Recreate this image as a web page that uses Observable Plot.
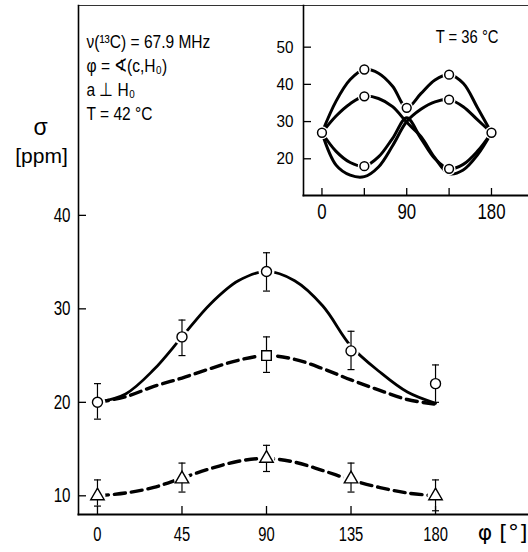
<!DOCTYPE html>
<html><head><meta charset="utf-8">
<script src="https://cdn.jsdelivr.net/npm/d3@7"></script>
<script src="https://cdn.jsdelivr.net/npm/@observablehq/plot@0.6"></script>
<style>
html,body{margin:0;padding:0;background:#fff;}
#wrap{position:relative;width:528px;height:552px;overflow:hidden;}
#main svg{display:block;}
#inset{position:absolute;left:260px;top:0;}
#inset svg{display:block;}
</style></head><body><div id="wrap"><div id="main"></div><div id="inset"></div></div>
<script>
const FONT = '"Liberation Sans",Arial,sans-serif';

// ---- main chart data ----
const phi = [0, 45, 90, 135, 180];
const circleSigma = [20, 27, 34, 25.5, 22];
const circleLo = [18.2, 25.0, 31.9, 23.5, 20.0];
const circleHi = [22.0, 28.8, 36.0, 27.6, 24.0];
const squarePhi = [90];
const squareSigma = [25];
const squareLo = [23.2];
const squareHi = [27.0];
const triangleSigma = [10, 11.8, 14, 11.8, 10];
const triangleLo = [8.9, 10.4, 12.6, 10.4, 8.4];
const triangleHi = [11.7, 13.5, 15.4, 13.5, 11.7];

const curvePhi = [0, 15, 30, 45, 60, 75, 90, 105, 120, 135, 150, 165, 180];
const solidCurve = [20, 20.9, 23.5, 27, 30.5, 33, 34, 33, 30.3, 26, 23.3, 21.1, 19.9];
const squareCurve = [20, 20.6, 21.7, 22.6, 23.6, 24.5, 25, 24.6, 23.6, 22.4, 21.3, 20.3, 19.8];
const triangleCurve = [10, 10.3, 10.9, 11.9, 12.9, 13.7, 14, 13.6, 12.7, 11.7, 10.9, 10.3, 10];

const xTicks = [0, 45, 90, 135, 180];
const yTicks = [10, 20, 30, 40];
const xDomain = [-10.1, 229.5];
const yDomain = [8.0, 62.45];

const infoText = "ν(¹³C) = 67.9 MHz\nφ = ∢(c,H₀)\na ⊥ H₀\nT = 42 °C";

// ---- inset data ----
const insetPointPhi = [0, 45, 45, 45, 90, 135, 135, 135, 180];
const insetPointSigma = [27, 44, 36.8, 18, 33.7, 42.6, 35.9, 17.3, 27];
const insetCurveA = [27, 35.5, 41.3, 44, 43, 39.5, 33.7, 37.5, 41.2, 42.6, 40.3, 33.8, 27];
const insetCurveB = [27, 31.5, 34.8, 36.8, 36.2, 34, 29.8, 26, 20.2, 16, 17, 21, 27];
const insetCurveC = [27, 18.3, 15.6, 15.2, 17.8, 23.5, 30, 33.3, 35.3, 35.9, 34, 30.5, 27];
const insetCurveD = [27, 22, 19, 18, 20.5, 25.5, 31, 25.5, 20, 17.3, 18.5, 22, 27];
const insetXTicks = [0, 45, 90, 135, 180];
const insetXLabels = [0, 90, 180];
const insetYTicks = [20, 30, 40, 50];
const insetXDomain = [-19.6, 219.3];
const insetYDomain = [10.13, 61.2];

// ---- tables ----
const circles = phi.map((p, i) => ({phi: p, sigma: circleSigma[i], lo: circleLo[i], hi: circleHi[i]}));
const squares = squarePhi.map((p, i) => ({phi: p, sigma: squareSigma[i], lo: squareLo[i], hi: squareHi[i]}));
const triangles = phi.map((p, i) => ({phi: p, sigma: triangleSigma[i], lo: triangleLo[i], hi: triangleHi[i]}));
const curveRows = (vals) => curvePhi.map((p, i) => ({phi: p, sigma: vals[i]}));
const allPoints = [...circles, ...squares, ...triangles];

const cap = {draw(ctx, size) { const r = Math.sqrt(size / Math.PI); ctx.moveTo(-r, 0); ctx.lineTo(r, 0); }};

const main = Plot.plot({
  width: 528, height: 552,
  marginLeft: 78, marginTop: 5, marginRight: 0, marginBottom: 38,
  x: {domain: xDomain},
  y: {domain: yDomain},
  style: {fontFamily: FONT, background: "white", color: "black"},
  marks: [
    Plot.frame({anchor: "top", stroke: "#333", strokeWidth: 1.2}),
    Plot.frame({anchor: "left", strokeWidth: 1.6}),
    Plot.frame({anchor: "bottom", strokeWidth: 2}),
    Plot.axisY(yTicks, {tickSize: 8, dx: 8, fill: "none", label: null, strokeWidth: 1.3}),
    Plot.axisY(yTicks, {tickSize: 0, tickPadding: 8, fontSize: 20.5, label: null}),
    Plot.axisX(xTicks, {tickSize: 8, dy: -8, fill: "none", label: null, strokeWidth: 1.3}),
    Plot.axisX(xTicks, {tickSize: 0, tickPadding: 12, fontSize: 20.5, label: null}),
    Plot.line(curveRows(solidCurve), {x: "phi", y: "sigma", curve: "catmull-rom", stroke: "black", strokeWidth: 2.8}),
    Plot.line(curveRows(squareCurve), {x: "phi", y: "sigma", curve: "catmull-rom", stroke: "black", strokeWidth: 3.4, strokeDasharray: "11,6"}),
    Plot.line(curveRows(triangleCurve), {x: "phi", y: "sigma", curve: "catmull-rom", stroke: "black", strokeWidth: 3.4, strokeDasharray: "11,6"}),
    Plot.dot(allPoints, {x: "phi", y: "sigma", r: 8, fill: "white", stroke: null}),
    Plot.ruleX(allPoints, {x: "phi", y1: "lo", y2: "hi", strokeWidth: 1.2}),
    Plot.dot(allPoints, {x: "phi", y: "lo", symbol: cap, r: 3.5, fill: "none", stroke: "black", strokeWidth: 1.2}),
    Plot.dot(allPoints, {x: "phi", y: "hi", symbol: cap, r: 3.5, fill: "none", stroke: "black", strokeWidth: 1.2}),
    Plot.dot(circles, {x: "phi", y: "sigma", r: 5, fill: "white", stroke: "black", strokeWidth: 1.4}),
    Plot.dot(squares, {x: "phi", y: "sigma", symbol: "square", r: 5.4, fill: "white", stroke: "black", strokeWidth: 1.4}),
    Plot.dot(triangles, {x: "phi", y: "sigma", symbol: "triangle", r: 5, fill: "white", stroke: "black", strokeWidth: 1.4}),
    Plot.text([infoText], {frameAnchor: "top-left", textAnchor: "start", lineAnchor: "top", dx: 8, dy: 25, fontSize: 18.5, lineHeight: 1.3}),
    Plot.text(["σ"], {frameAnchor: "top-left", textAnchor: "middle", dx: -38, dy: 113, fontSize: 23}),
    Plot.text(["[ppm]"], {frameAnchor: "top-left", textAnchor: "middle", dx: -37, dy: 143, fontSize: 21}),
    Plot.text(["φ [°]"], {frameAnchor: "bottom-right", textAnchor: "end", dx: -1, dy: 25, fontSize: 22, fontFamily: '"DejaVu Sans",sans-serif'})
  ]
});
document.getElementById("main").append(main);

const insetCurves = [insetCurveA, insetCurveB, insetCurveC, insetCurveD];
const insetPoints = insetPointPhi.map((p, i) => ({phi: p, sigma: insetPointSigma[i]}));

const inset = Plot.plot({
  width: 268, height: 230,
  marginLeft: 43, marginTop: 5, marginRight: 0, marginBottom: 35,
  x: {domain: insetXDomain},
  y: {domain: insetYDomain},
  style: {fontFamily: FONT, background: "transparent", color: "black", overflow: "visible"},
  marks: [
    Plot.frame({anchor: "left", strokeWidth: 1.6}),
    Plot.frame({anchor: "bottom", strokeWidth: 2}),
    Plot.axisY(insetYTicks, {tickSize: 8, dx: 8, fill: "none", label: null, strokeWidth: 1.3}),
    Plot.axisY(insetYTicks, {tickSize: 0, tickPadding: 10, fontSize: 17, label: null}),
    Plot.axisX(insetXTicks, {tickSize: 7, dy: -7, fill: "none", label: null, strokeWidth: 1.3}),
    Plot.axisX(insetXLabels, {tickSize: 0, tickPadding: 8, fontSize: 21.5, label: null}),
    ...insetCurves.map(vals => Plot.line(curveRows(vals), {x: "phi", y: "sigma", curve: "catmull-rom", stroke: "black", strokeWidth: 3, strokeLinecap: "round"})),
    Plot.dot(insetPoints, {x: "phi", y: "sigma", r: 6.5, fill: "white", stroke: null}),
    Plot.dot(insetPoints, {x: "phi", y: "sigma", r: 4.4, fill: "white", stroke: "black", strokeWidth: 1.5}),
    Plot.text(["T = 36 °C"], {frameAnchor: "top-right", textAnchor: "end", dx: -30, dy: 24, fontSize: 18.5})
  ]
});
document.getElementById("inset").append(inset);

// condense the lettering horizontally, like the narrow type of the original
function squeeze(sel, s) {
  sel.each(function () {
    const t = this.getAttribute("transform") || "";
    this.setAttribute("transform", `${t} scale(${s},1)`);
  });
}
squeeze(d3.select(main).selectAll('g[aria-label="y-axis tick label"] text'), 0.74);
squeeze(d3.select(main).selectAll('g[aria-label="x-axis tick label"] text'), 0.72);
squeeze(d3.select(main).selectAll('g[aria-label="text"] text').filter(function () { return this.textContent.includes("MHz"); }), 0.84);
squeeze(d3.select(inset).selectAll('g[aria-label="y-axis tick label"] text'), 0.9);
squeeze(d3.select(inset).selectAll('g[aria-label="x-axis tick label"] text'), 0.78);
squeeze(d3.select(inset).selectAll('g[aria-label="text"] text'), 0.8);
</script></body></html>
